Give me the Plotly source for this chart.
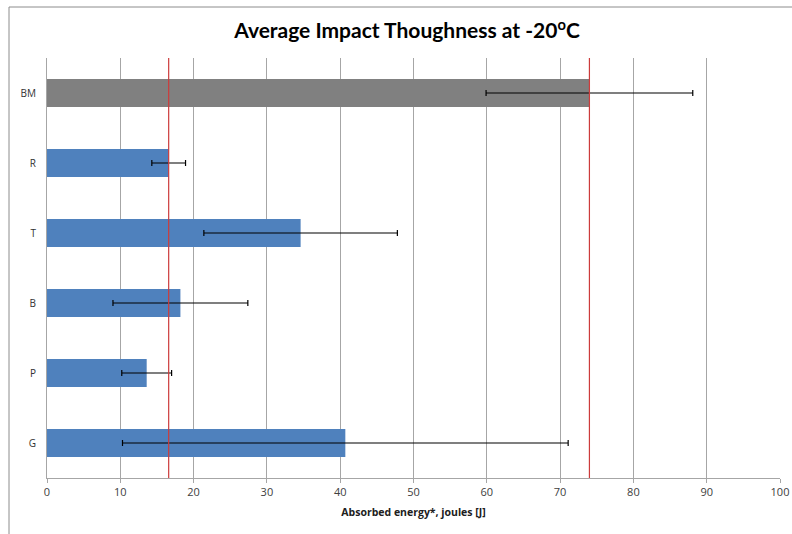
import plotly.graph_objects as go

# Average absorbed energy per specimen group (J) and its spread
categories = ["BM", "R", "T", "B", "P", "G"]
mean_energy = [74.0, 16.6, 34.6, 18.2, 13.6, 40.7]
spread = [14.1, 2.3, 13.2, 9.2, 3.4, 30.4]
bar_colors = ["#808080", "#4f81bd", "#4f81bd", "#4f81bd", "#4f81bd", "#4f81bd"]

# Reference levels marked across the chart
reference_levels = [16.6, 74.0]

x_ticks = list(range(0, 101, 10))

W, H = 792, 534
ML, MR, MT, MB = 47, 12, 58, 56
PW, PH = W - ML - MR, H - MT - MB


def px_to_paper_x(px):
    return (px - ML) / PW


def px_to_paper_y(py):
    return (H - MB - py) / PH


fig = go.Figure()
fig.add_trace(go.Bar(
    y=categories,
    x=mean_energy,
    orientation="h",
    width=0.4,
    marker=dict(color=bar_colors, line=dict(width=0)),
    error_x=dict(type="data", array=spread, visible=True,
                 color="#000000", thickness=1.2, width=3),
    showlegend=False,
))

shapes = []
for lvl in reference_levels:
    shapes.append(dict(type="line", xref="x", yref="paper",
                       x0=lvl, x1=lvl, y0=0, y1=1,
                       line=dict(color="#cc3b3b", width=1.2), layer="above"))

# outer chart frame (left and top edges fall inside the page)
shapes.append(dict(type="rect", xref="paper", yref="paper",
                   x0=px_to_paper_x(9), x1=px_to_paper_x(W + 10),
                   y0=px_to_paper_y(H + 10), y1=px_to_paper_y(7),
                   line=dict(color="#8c8c8c", width=1),
                   fillcolor="rgba(0,0,0,0)", layer="below"))

fig.update_layout(
    width=W, height=H,
    margin=dict(l=ML, r=MR, t=MT, b=MB, autoexpand=False),
    paper_bgcolor="white", plot_bgcolor="white",
    title=dict(text="<b>Average Impact Thoughness at -20<sup>o</sup>C</b>",
               x=407 / W, xanchor="center",
               y=1 - 31 / H, yanchor="middle",
               font=dict(family="Lato", size=21, color="#000000")),
    font=dict(family="Open Sans", color="#404040"),
    shapes=shapes,
    bargap=0.6,
)
fig.update_xaxes(
    range=[0, 100], tickvals=x_ticks, ticktext=[str(v) for v in x_ticks],
    automargin=False,
    showgrid=True, gridcolor="#a6a6a6", gridwidth=1,
    showline=True, linecolor="#a6a6a6", linewidth=1,
    ticks="outside", ticklen=4, tickcolor="#a6a6a6",
    tickfont=dict(size=11, color="#404040"),
    zeroline=False,
    title=dict(text="<b>Absorbed energy*, joules [J]</b>",
               font=dict(size=10.5, color="#202020"), standoff=10),
)
fig.update_yaxes(
    categoryorder="array", categoryarray=categories,
    autorange="reversed",
    automargin=False,
    showgrid=False,
    showline=True, linecolor="#a6a6a6", linewidth=1,
    ticks="", tickfont=dict(size=10, color="#333333"),
    ticklabelstandoff=8,
)

fig.write_html("out.html")
